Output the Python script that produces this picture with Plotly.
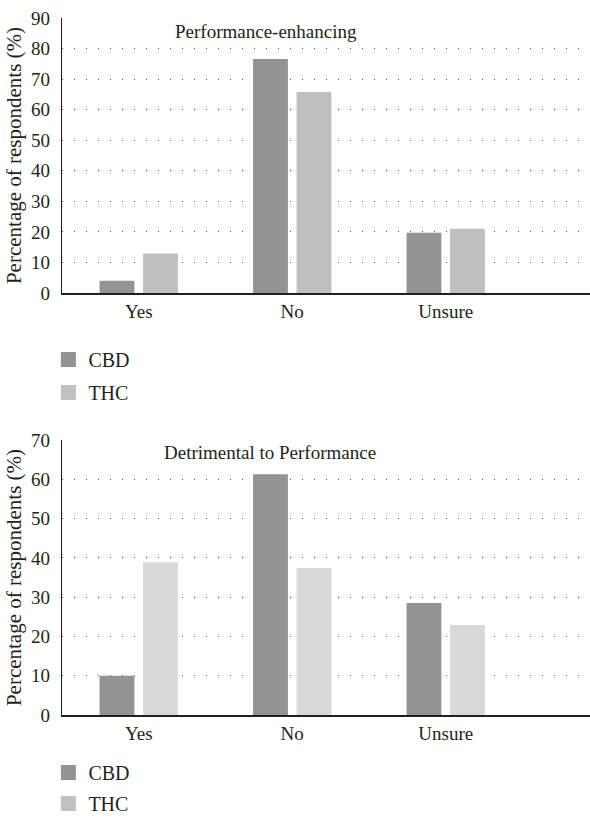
import plotly.graph_objects as go

categories = ["Yes", "No", "Unsure"]
enh_cbd = [4.0, 76.6, 19.7]
enh_thc = [12.9, 65.8, 21.0]
det_cbd = [10.0, 61.3, 28.5]
det_thc = [38.9, 37.4, 22.9]
enh_ticks = [0, 10, 20, 30, 40, 50, 60, 70, 80, 90]
det_ticks = [0, 10, 20, 30, 40, 50, 60, 70]
series_names = ["CBD", "THC"]

FONT = "Liberation Serif"
TXT = "#231f20"
C_CBD = "#939393"
C_THC_TOP = "#bfbfbf"
C_THC_BOT = "#d9d9d9"
C_THC_LEG = "#c0c0c0"

fig = go.Figure()

# Top chart bars
fig.add_trace(go.Bar(x=categories, y=enh_cbd, marker_color=C_CBD, showlegend=False,
                     xaxis="x", yaxis="y", marker_line_width=0))
fig.add_trace(go.Bar(x=categories, y=enh_thc, marker_color=C_THC_TOP, showlegend=False,
                     xaxis="x", yaxis="y", marker_line_width=0))
# Bottom chart bars
fig.add_trace(go.Bar(x=categories, y=det_cbd, marker_color=C_CBD, showlegend=False,
                     xaxis="x2", yaxis="y2", marker_line_width=0))
fig.add_trace(go.Bar(x=categories, y=det_thc, marker_color=C_THC_BOT, showlegend=False,
                     xaxis="x2", yaxis="y2", marker_line_width=0))

# Legend entries (square markers)
for i, (name, col) in enumerate(zip(series_names, [C_CBD, C_THC_LEG])):
    fig.add_trace(go.Scatter(x=[None], y=[None], mode="markers", name=name,
                             marker=dict(symbol="square", size=15, color=col),
                             legend="legend", legendgroup=f"a{i}",
                             xaxis="x", yaxis="y"))
    fig.add_trace(go.Scatter(x=[None], y=[None], mode="markers", name=name,
                             marker=dict(symbol="square", size=15, color=col),
                             legend="legend2", legendgroup=f"b{i}",
                             xaxis="x2", yaxis="y2"))

tickfont = dict(family=FONT, size=19, color=TXT)
xcommon = dict(type="category", range=[-0.5, 2.94], showgrid=False, ticks="",
               showline=True, linecolor=TXT, linewidth=1.5, tickfont=tickfont,
               zeroline=False, fixedrange=True, automargin=False)
ycommon = dict(showline=True, linecolor=TXT, linewidth=1.2, ticks="",
               showgrid=True, gridcolor="#555555", gridwidth=1.3, griddash="1.3px,10.7px",
               tickfont=tickfont, zeroline=False, ticklabelstandoff=7, automargin=False,
               fixedrange=True,
               title=dict(text="Percentage of respondents (%)",
                          font=dict(family=FONT, size=21, color=TXT), standoff=3))

legfont = dict(family=FONT, size=20, color=TXT)

fig.update_layout(
    width=590, height=820,
    margin=dict(l=62, r=0, t=18, b=105, autoexpand=False),
    paper_bgcolor="white", plot_bgcolor="white",
    barmode="group", bargap=0.433, bargroupgap=0.2,
    font=dict(family=FONT, color=TXT),
    xaxis=dict(**xcommon, domain=[0, 1], anchor="y"),
    yaxis=dict(**ycommon, domain=[0.6055, 1], range=[0, 90], tickvals=enh_ticks, anchor="x"),
    xaxis2=dict(**xcommon, domain=[0, 1], anchor="y2"),
    yaxis2=dict(**ycommon, domain=[0, 0.3945], range=[0, 70], tickvals=det_ticks, anchor="x2"),
    legend=dict(x=-0.0258, y=0.538, xanchor="left", yanchor="top", font=legfont,
                tracegroupgap=4, itemwidth=30, bgcolor="rgba(0,0,0,0)"),
    legend2=dict(x=-0.0258, y=-0.0545, xanchor="left", yanchor="top", font=legfont,
                 tracegroupgap=2, itemwidth=30, bgcolor="rgba(0,0,0,0)"),
    annotations=[
        dict(text="Performance-enhancing", xref="paper", yref="paper",
             x=0.386, y=0.9813, xanchor="center", yanchor="middle", showarrow=False,
             font=dict(family=FONT, size=19, color=TXT)),
        dict(text="Detrimental to Performance", xref="paper", yref="paper",
             x=0.394, y=0.3759, xanchor="center", yanchor="middle", showarrow=False,
             font=dict(family=FONT, size=19, color=TXT)),
    ],
)

fig.write_html("out.html", config={"displayModeBar": False},
               post_script="document.body.style.margin='0';")
